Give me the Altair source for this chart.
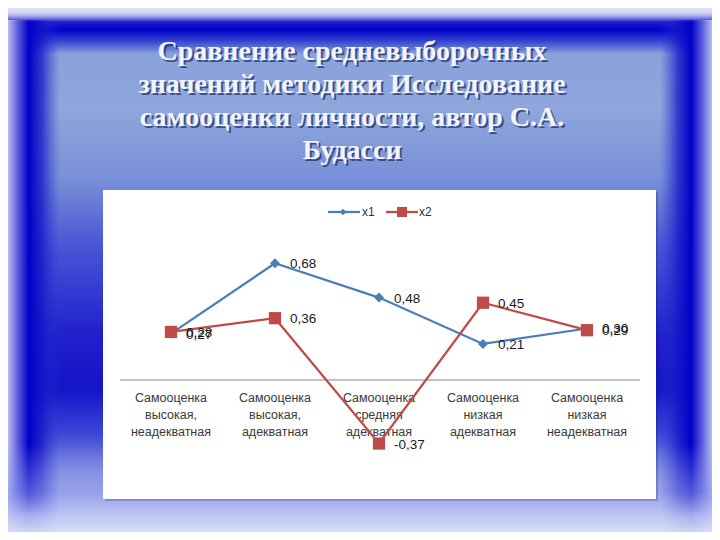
import altair as alt
import pandas as pd

# ---- data ----
categories = [
    "Самооценка\nвысокая,\nнеадекватная",
    "Самооценка\nвысокая,\nадекватная",
    "Самооценка\nсредняя\nадекватная",
    "Самооценка\nнизкая\nадекватная",
    "Самооценка\nнизкая\nнеадекватная",
]
x1 = [0.27, 0.68, 0.48, 0.21, 0.30]
x2 = [0.28, 0.36, -0.37, 0.45, 0.29]
series_names = ["x1", "x2"]
title_lines = [
    "Сравнение средневыборочных",
    "значений методики Исследование",
    "самооценки личности, автор С.А.",
    "Будасси",
]

BLUE = "#4A7EBB"
RED = "#BE4B48"

rows = []
for i, c in enumerate(categories):
    rows.append({"idx": i, "cat": c, "series": "x1", "value": x1[i]})
    rows.append({"idx": i, "cat": c, "series": "x2", "value": x2[i]})
df = pd.DataFrame(rows)
cat_df = pd.DataFrame({"idx": list(range(len(categories))), "cat": categories})
dummy = pd.DataFrame({"a": [0]})

W, H = 704, 524
xs = alt.Scale(domain=[-1.567, 5.202], nice=False, zero=False)
ys = alt.Scale(domain=[-0.8853, 2.1666], nice=False, zero=False)
X = alt.X("idx:Q", scale=xs, axis=None)
Y = alt.Y("value:Q", scale=ys, axis=None)


def grad(stops, horizontal=False):
    return alt.Gradient(
        gradient="linear",
        stops=[alt.GradientStop(color=c, offset=o) for o, c in stops],
        x1=0, y1=0,
        x2=1 if horizontal else 0,
        y2=0 if horizontal else 1,
    )


def rect(x, x2, y, y2, fill):
    return alt.Chart(dummy).mark_rect(fill=fill).encode(
        x=alt.value(x), x2=alt.value(x2), y=alt.value(y), y2=alt.value(y2)
    )


# ---- slide background ----
bg = rect(-8, 712, -8, 532, grad([
    (0.00, "#e6e6fa"), (0.02, "#b8bcf0"), (0.04, "#2020d0"), (0.055, "#0000c8"),
    (0.075, "#3040d0"), (0.10, "#8aa2da"), (0.20, "#8ea6da"), (0.33, "#7890d8"),
    (0.45, "#4a58d6"), (0.62, "#2020cc"), (0.72, "#1414c8"), (0.80, "#3a44d6"),
    (0.87, "#7a86e0"), (0.93, "#b4bcef"), (1.00, "#e8eafa"),
]))
left = rect(-8, 52, 12, 532, grad([
    (0.00, "#e2e4f9"), (0.12, "#c0c4f2"), (0.30, "#5a5ade"), (0.48, "#0000c8"),
    (0.70, "rgba(20,20,200,0.75)"), (1.00, "rgba(40,60,210,0)"),
], horizontal=True))
right = rect(652, 712, 12, 532, grad([
    (0.00, "rgba(40,60,210,0)"), (0.30, "rgba(20,20,200,0.75)"), (0.52, "#0000c8"),
    (0.70, "#5a5ade"), (0.88, "#c0c4f2"), (1.00, "#e2e4f9"),
], horizontal=True))
bottom = rect(-8, 712, 436, 532, grad([
    (0.00, "rgba(150,160,235,0)"), (0.50, "rgba(140,150,232,0.55)"),
    (0.75, "rgba(190,198,242,0.88)"), (1.00, "#e6e9f9"),
]))
topband = rect(-8, 712, -8, 14, grad([
    (0.00, "rgba(232,232,250,1)"), (0.6, "rgba(220,222,248,0.8)"), (1.00, "rgba(190,194,240,0)"),
]))

# ---- title with shadow ----
title_layers = []
for k, line in enumerate(title_lines):
    for dx, dy, col, op in [(2, 2, "#1c2a66", 0.7), (0, 0, "#f2f4ff", 1.0)]:
        title_layers.append(
            alt.Chart(dummy).mark_text(
                text=line, font="Liberation Serif", fontWeight="bold", fontSize=28,
                align="center", baseline="alphabetic", color=col, opacity=op,
            ).encode(x=alt.value(344 + dx), y=alt.value(52 + 33 * k + dy))
        )

# ---- white chart panel ----
panel_shadow = rect(97, 650, 184, 493, "rgba(20,20,80,0.22)")
panel = rect(95, 648, 182, 491, "#ffffff")

# ---- axis line at zero ----
axis_line = alt.Chart(pd.DataFrame({"value": [0.0]})).mark_rule(color="#868686", strokeWidth=1).encode(
    x=alt.value(112), x2=alt.value(632), y=Y
)

# ---- category labels ----
cat_labels = alt.Chart(cat_df).mark_text(
    font="Liberation Sans", fontSize=12.5, color="#3a3a3a", lineBreak="\n",
    lineHeight=17, align="center", baseline="middle",
).encode(x=X, y=alt.value(390), text="cat:N")

# ---- series ----
def series_layers(name, color, shape, size):
    d = df[df.series == name]
    base = alt.Chart(d).encode(x=X, y=Y)
    line = base.mark_line(color=color, strokeWidth=2.25)
    pts = base.mark_point(shape=shape, size=size, filled=True, color=color, opacity=1)
    return line, pts

l1, p1 = series_layers("x1", BLUE, "diamond", 100)
l2, p2 = series_layers("x2", RED, "square", 150)

labels = alt.Chart(df).transform_calculate(
    lab="(datum.value < 0 ? '-' : '') + replace(format(abs(datum.value), '.2f'), '.', ',')"
).mark_text(
    font="Liberation Sans", fontSize=13.5, color="#1a1a1a", align="left",
    baseline="middle", dx=15, dy=1,
).encode(x=X, y=Y, text="lab:N")

# ---- legend ----
leg_df = pd.DataFrame({"series": series_names})
leg_x1_line = alt.Chart(dummy).mark_rule(color=BLUE, strokeWidth=2.25).encode(
    x=alt.value(320), x2=alt.value(352), y=alt.value(204))
leg_x1_pt = alt.Chart(dummy).mark_point(shape="diamond", size=45, filled=True, color=BLUE, opacity=1).encode(
    x=alt.value(335), y=alt.value(204))
leg_x2_line = alt.Chart(dummy).mark_rule(color=RED, strokeWidth=2.25).encode(
    x=alt.value(378), x2=alt.value(410), y=alt.value(204))
leg_x2_pt = alt.Chart(dummy).mark_point(shape="square", size=100, filled=True, color=RED, opacity=1).encode(
    x=alt.value(394), y=alt.value(204))
leg_text1 = alt.Chart(leg_df.iloc[[0]]).mark_text(
    font="Liberation Sans", fontSize=12, color="#333333", align="left", baseline="middle"
).encode(x=alt.value(354), y=alt.value(204), text="series:N")
leg_text2 = alt.Chart(leg_df.iloc[[1]]).mark_text(
    font="Liberation Sans", fontSize=12, color="#333333", align="left", baseline="middle"
).encode(x=alt.value(411), y=alt.value(204), text="series:N")

chart = alt.layer(
    bg, left, right, bottom, topband,
    *title_layers,
    panel_shadow, panel,
    axis_line, cat_labels,
    l1, p1, l2, p2, labels,
    leg_x1_line, leg_x1_pt, leg_x2_line, leg_x2_pt, leg_text1, leg_text2,
).properties(
    width=W, height=H, padding=0, autosize="none"
).configure_view(stroke=None)

chart.save("out.html", embed_options={"renderer": "svg", "actions": False})
